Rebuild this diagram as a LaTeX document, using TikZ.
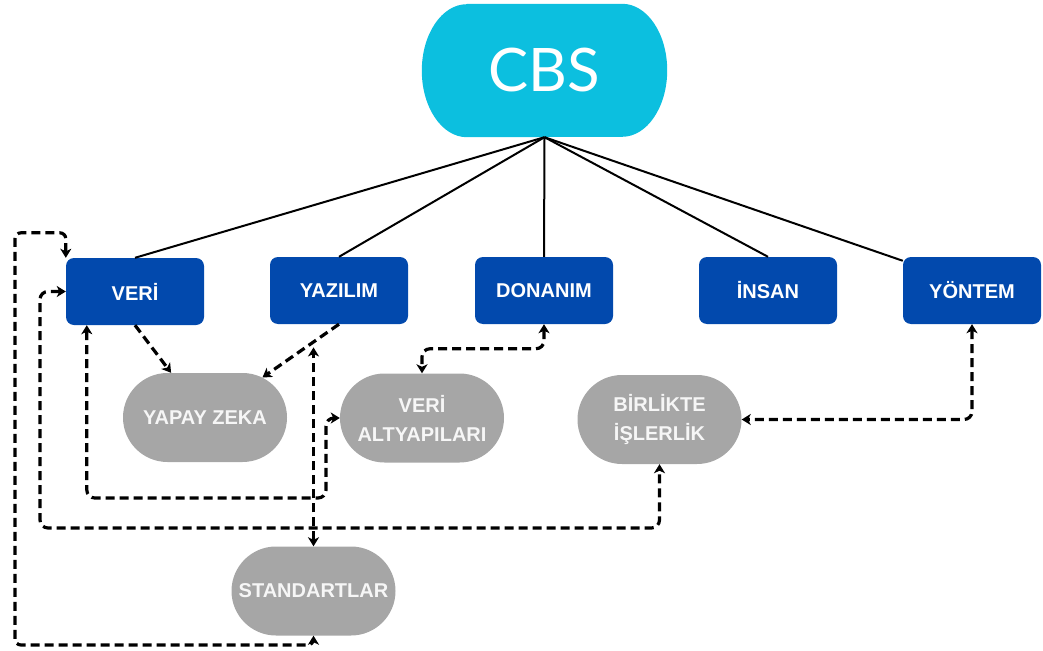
\documentclass[tikz,border=0pt]{standalone}
\usepackage{fontspec}
\setmainfont{Liberation Sans}
\IfFontExistsTF{Lato}{\newfontfamily\cbsfont{Lato}}{\newfontfamily\cbsfont{Liberation Sans}}
\usetikzlibrary{shapes.misc,arrows.meta,calc,backgrounds}
\definecolor{cbscyan}{HTML}{0CBFDF}
\definecolor{compblue}{HTML}{0249AD}
\definecolor{pillgray}{HTML}{A6A6A6}
\definecolor{pilltext}{HTML}{F6F6F6}

\begin{document}
\begin{tikzpicture}[x=1pt,y=-1pt,
  comp/.style={fill=compblue, rounded corners=8pt, minimum width=138pt,
    minimum height=67pt, inner sep=0pt, text=white,
    font=\bfseries\fontsize{20}{24}\selectfont},
  topic/.style={rounded rectangle, fill=pillgray, minimum width=164pt,
    minimum height=89pt, inner sep=0pt, text=pilltext, align=center,
    font=\bfseries\fontsize{20}{29}\selectfont},
  link/.style={line width=2pt, black},
  tip/.tip={Stealth[length=9pt,width=11pt,inset=2.5pt]},
  rel/.style={line width=3.2pt, dash pattern=on 9pt off 5pt,
    rounded corners=8pt, -tip},
  both/.style={rel, tip-tip},
]
\useasboundingbox (0,0) rectangle (1043,650);

% central system
\node[minimum width=245pt, minimum height=133pt, inner sep=0pt, text=white,
  font=\cbsfont\fontsize{60}{66}\selectfont] (cbs) at (544.5,70.5) {CBS};
\begin{scope}[on background layer]
  \fill[cbscyan] ($(cbs.north west)+(45,0)$) -- ($(cbs.north east)+(-45,0)$)
    arc[start angle=90,end angle=0,x radius=45pt,y radius=66.5pt]
    arc[start angle=0,end angle=-90,x radius=45pt,y radius=66.5pt]
    -- ($(cbs.south west)+(45,0)$)
    arc[start angle=270,end angle=180,x radius=45pt,y radius=66.5pt]
    arc[start angle=180,end angle=90,x radius=45pt,y radius=66.5pt]
    -- cycle;
\end{scope}

% components
\node[comp] (veri)    at (135,291.5) {VERİ};
\node[comp] (yazilim) at (339,290.5) {YAZILIM};
\node[comp] (donanim) at (544,290.5) {DONANIM};
\node[comp] (insan)   at (768,290.5) {İNSAN};
\node[comp] (yontem)  at (972,290.5) {YÖNTEM};

% related topics
\node[topic] (yapay)    at (205,417.5) {YAPAY ZEKA};
\node[topic] (altyapi)  at (422,418)   {VERİ\\ALTYAPILARI};
\node[topic] (birlikte) at (659.5,419.5) {BİRLİKTE\\İŞLERLİK};
\node[topic] (standart) at (313.5,591) {STANDARTLAR};

% tree links
\draw[link] (cbs.south) -- (veri.north);
\draw[link] (cbs.south) -- (yazilim.north);
\draw[link] (cbs.south) -- (donanim.north);
\draw[link] (cbs.south) -- (insan.north);
\draw[link] (cbs.south) -- ([yshift=-4pt]yontem.north west);

% relations
\coordinate (c5) at (326,498);
\coordinate (c6) at (40,528);
\coordinate (c7) at (15,645);

\draw[rel] (veri.south) -- (yapay);
\draw[rel] (yazilim.south) -- coordinate[pos=0.342] (cross) (yapay);
\draw[both] (standart.north) -- ([yshift=-5pt]standart.north |- cross);
\draw[both] (donanim.south) |- ($(donanim.south)!0.5!(altyapi.north)$) -| (altyapi.north);
\draw[both] (yontem.south) |- (birlikte.east);
\draw[both] ([xshift=21pt]veri.south west) |- (c5) |- (altyapi.west);
\draw[both] (veri.west) -| (c6) -| (birlikte.south);
\draw[both, rounded corners=6pt] (standart.south) |- (c7)
  |- ([yshift=25pt]veri.north west) -- (veri.north west);
\end{tikzpicture}
\end{document}
